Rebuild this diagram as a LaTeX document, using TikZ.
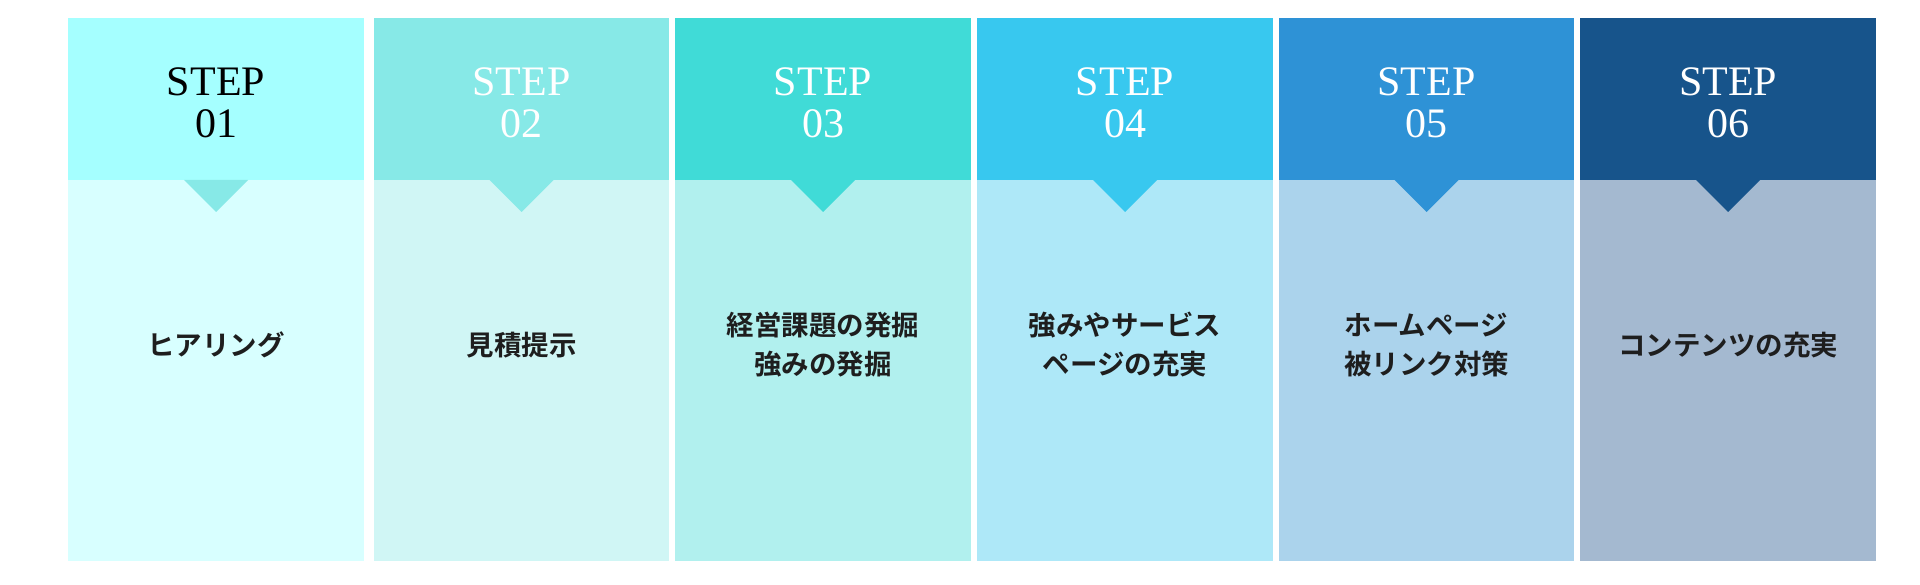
\documentclass[tikz,border=0pt]{standalone}
\usepackage{fontspec}
\setmainfont{Liberation Serif}
\newfontfamily\jpfont{Noto Sans CJK JP Bold}
\definecolor{headA}{HTML}{A5FFFF}
\definecolor{bodyA}{HTML}{D8FFFF}
\definecolor{headB}{HTML}{87E9E7}
\definecolor{bodyB}{HTML}{D0F6F5}
\definecolor{headC}{HTML}{40DBD7}
\definecolor{bodyC}{HTML}{B1F0EE}
\definecolor{headD}{HTML}{38C8EF}
\definecolor{bodyD}{HTML}{AEE8F8}
\definecolor{headE}{HTML}{2E92D6}
\definecolor{bodyE}{HTML}{ABD3EC}
\definecolor{headF}{HTML}{17548B}
\definecolor{bodyF}{HTML}{A4B9D0}
\definecolor{taskink}{HTML}{1E1E1E}
\tikzset{
  steplabel/.style={font=\fontsize{42}{42}\selectfont, align=center, text=white, inner sep=0pt},
  tasklabel/.style={font=\jpfont\fontsize{27.5}{39}\selectfont, align=center, text=taskink, inner sep=0pt},
}

\begin{document}
\begin{tikzpicture}[x=1pt,y=-1pt]
				\useasboundingbox (0,0) rectangle (1920,585);
				
				\fill[headA] (68,18) rectangle (364,180);
				\fill[bodyA] (68,180) rectangle (364,561);
				\fill[headB] (184,180) -- (248,180) -- (216,212) -- cycle;
				\node[steplabel, text=black] (step1) at (216,103) {STEP\\01};
				\node[tasklabel] (task1) at (216,345) {ヒアリング};
				
				\fill[headB] (374,18) rectangle (669,180);
				\fill[bodyB] (374,180) rectangle (669,561);
				\fill[headB] (489.5,180) -- (553.5,180) -- (521.5,212) -- cycle;
				\node[steplabel] (step2) at (521.5,103) {STEP\\02};
				\node[tasklabel] (task2) at (521.5,345) {見積提示};
				
				\fill[headC] (675,18) rectangle (971,180);
				\fill[bodyC] (675,180) rectangle (971,561);
				\fill[headC] (791,180) -- (855,180) -- (823,212) -- cycle;
				\node[steplabel] (step3) at (823,103) {STEP\\03};
				\node[tasklabel] (task3) at (823,345) {経営課題の発掘\\強みの発掘};
				
				\fill[headD] (977,18) rectangle (1273,180);
				\fill[bodyD] (977,180) rectangle (1273,561);
				\fill[headD] (1093,180) -- (1157,180) -- (1125,212) -- cycle;
				\node[steplabel] (step4) at (1125,103) {STEP\\04};
				\node[tasklabel] (task4) at (1125,345) {強みやサービス\\ページの充実};
				
				\fill[headE] (1279,18) rectangle (1574,180);
				\fill[bodyE] (1279,180) rectangle (1574,561);
				\fill[headE] (1394.5,180) -- (1458.5,180) -- (1426.5,212) -- cycle;
				\node[steplabel] (step5) at (1426.5,103) {STEP\\05};
				\node[tasklabel] (task5) at (1426.5,345) {ホームページ\\被リンク対策};
				
				\fill[headF] (1580,18) rectangle (1876,180);
				\fill[bodyF] (1580,180) rectangle (1876,561);
				\fill[headF] (1696,180) -- (1760,180) -- (1728,212) -- cycle;
				\node[steplabel] (step6) at (1728,103) {STEP\\06};
				\node[tasklabel] (task6) at (1728,345) {コンテンツの充実};
			\end{tikzpicture}
\end{document}
